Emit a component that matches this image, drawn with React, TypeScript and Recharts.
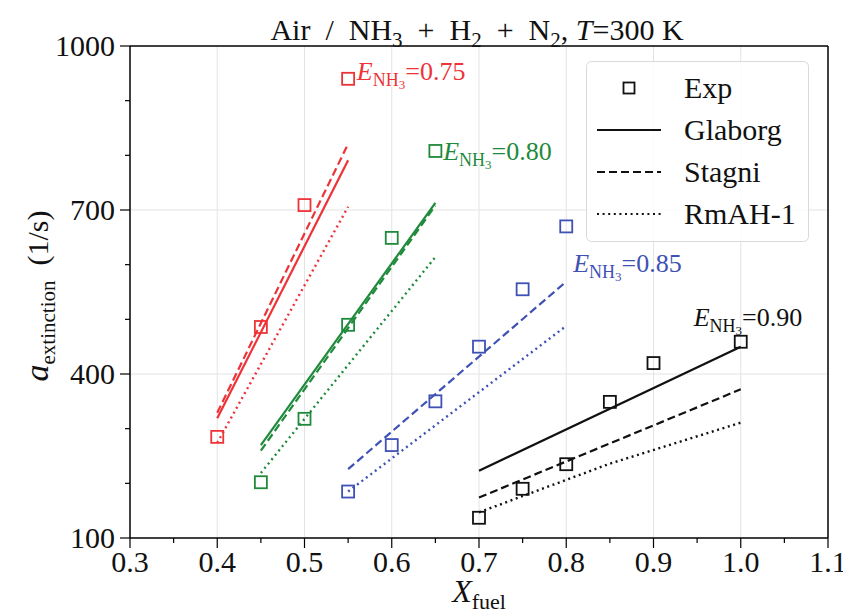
import React from 'react'
import { ComposedChart, Line, ReferenceLine, Scatter, XAxis, YAxis } from 'recharts'

const xMajorTicks = [0.3, 0.4, 0.5, 0.6, 0.7, 0.8, 0.9, 1.0, 1.1]
const xMinorTicks = [0.35, 0.45, 0.55, 0.65, 0.75, 0.85, 0.95, 1.05]
const yMajorTicks = [100, 400, 700, 1000]
const yMinorTicks = [200, 300, 500, 600, 800, 900]

// E_NH3 = 0.75
const fuel075 = [0.4, 0.45, 0.5, 0.55]
const exp075 = [285, 486, 709, 940]
const modelFuel075 = [0.4, 0.55]
const glaborg075 = [319, 791]
const stagni075 = [329, 821]
const rmah075 = [274, 706]

// E_NH3 = 0.80
const fuel080 = [0.45, 0.5, 0.55, 0.6, 0.65]
const exp080 = [202, 318, 490, 649, 808]
const modelFuel080 = [0.45, 0.65]
const glaborg080 = [270, 713]
const stagni080 = [260, 708]
const rmah080 = [219, 614]

// E_NH3 = 0.85 (Glaborg curve sits under Stagni, not drawn)
const fuel085 = [0.55, 0.6, 0.65, 0.7, 0.75, 0.8]
const exp085 = [185, 270, 350, 450, 555, 670]
const modelFuel085 = [0.55, 0.8]
const stagni085 = [226, 569]
const rmah085 = [185, 488]

// E_NH3 = 0.90
const fuel090 = [0.7, 0.75, 0.8, 0.85, 0.9, 1.0]
const exp090 = [137, 190, 235, 349, 420, 459]
const modelFuel090 = [0.7, 1.0]
const glaborg090 = [223, 450]
const stagni090 = [174, 372]
const rmahFuel090 = [0.7, 0.85, 1.0]
const rmah090 = [147, 236, 311]

const labelValues = ['0.75', '0.80', '0.85', '0.90']
const labelFuel = [0.56, 0.659, 0.808, 0.946]
const labelRate = [938, 791, 587, 488]

const RED = '#ee3338'
const GREEN = '#1f8a3b'
const BLUE = '#3f51b5'
const BLACK = '#111111'
const FONT = '"Liberation Serif", Tinos, "Times New Roman", "DejaVu Serif", "Noto Serif", serif'

const pts = (xs: number[], ys: number[]) => xs.map((x, i) => ({ x, y: ys[i] }))

const groups = [
  { color: RED, fuel: fuel075, exp: exp075, mFuel: modelFuel075, glaborg: glaborg075, stagni: stagni075, rFuel: modelFuel075, rmah: rmah075 },
  { color: GREEN, fuel: fuel080, exp: exp080, mFuel: modelFuel080, glaborg: glaborg080, stagni: stagni080, rFuel: modelFuel080, rmah: rmah080 },
  { color: BLUE, fuel: fuel085, exp: exp085, mFuel: modelFuel085, glaborg: null, stagni: stagni085, rFuel: modelFuel085, rmah: rmah085 },
  { color: BLACK, fuel: fuel090, exp: exp090, mFuel: modelFuel090, glaborg: glaborg090, stagni: stagni090, rFuel: rmahFuel090, rmah: rmah090 },
]

const isMajor = (list: number[], v: number) => list.some((t) => Math.abs(t - v) < 1e-6)

function XTick({ x, y, payload }: any) {
  const major = isMajor(xMajorTicks, payload.value)
  return (
    <g>
      <line x1={x} x2={x} y1={y} y2={y + (major ? 10 : 5)} stroke="#000" strokeWidth={1.2} />
      {major ? (
        <text x={x} y={y + 34} textAnchor="middle" fontSize={30} fontFamily={FONT} fill="#111">
          {payload.value.toFixed(1)}
        </text>
      ) : null}
    </g>
  )
}

function YTick({ x, y, payload }: any) {
  const major = isMajor(yMajorTicks, payload.value)
  return (
    <g>
      <line x1={x - (major ? 10 : 5)} x2={x} y1={y} y2={y} stroke="#000" strokeWidth={1.2} />
      {major ? (
        <text x={x - 15} y={y + 10} textAnchor="end" fontSize={30} fontFamily={FONT} fill="#111">
          {payload.value}
        </text>
      ) : null}
    </g>
  )
}

const squareShape = (color: string) => (props: any) => (
  <rect x={props.cx - 6} y={props.cy - 6} width={12} height={12} fill="none" stroke={color} strokeWidth={1.8} />
)

const labelShape = (text: string, color: string) => (props: any) => (
  <text x={props.cx} y={props.cy} fontSize={26} fontFamily={FONT} fill={color} style={{ whiteSpace: 'pre' }}>
    <tspan fontStyle="italic">E</tspan>
    <tspan dy={6} fontSize={18}>NH</tspan>
    <tspan dy={3} fontSize={13}>3</tspan>
    <tspan dy={-9}>{`=${text}`}</tspan>
  </text>
)

function XLabel({ viewBox }: any) {
  const cx = viewBox.x + viewBox.width / 2
  return (
    <text x={cx} y={602} textAnchor="middle" fontSize={32} fontFamily={FONT} fill="#111">
      <tspan fontStyle="italic">X</tspan>
      <tspan dy={7} fontSize={22}>fuel</tspan>
    </text>
  )
}

function YLabel() {
  return (
    <text transform="translate(48, 296) rotate(-90)" textAnchor="middle" fontSize={30} fontFamily={FONT} fill="#111" style={{ whiteSpace: 'pre' }}>
      <tspan fontStyle="italic" fontSize={34}>a</tspan>
      <tspan dy={7} fontSize={21}>extinction</tspan>
      <tspan dy={-7}>{'  (1/s)'}</tspan>
    </text>
  )
}

const legendRows = [
  { name: 'Exp', kind: 'marker' },
  { name: 'Glaborg', kind: 'solid' },
  { name: 'Stagni', kind: 'dashed' },
  { name: 'RmAH-1', kind: 'dotted' },
]

function Overlay() {
  return (
    <svg width={843} height={615} style={{ position: 'absolute', left: 0, top: 0, pointerEvents: 'none' }}>
      <text x={477} y={40} textAnchor="middle" fontSize={30} fontFamily={FONT} fill="#111" style={{ whiteSpace: 'pre' }}>
        {'Air  /  NH'}
        <tspan dy={7} fontSize={21}>3</tspan>
        <tspan dy={-7}>{'  +  H'}</tspan>
        <tspan dy={7} fontSize={21}>2</tspan>
        <tspan dy={-7}>{'  +  N'}</tspan>
        <tspan dy={7} fontSize={21}>2</tspan>
        <tspan dy={-7}>{', '}</tspan>
        <tspan fontStyle="italic">T</tspan>
        <tspan>{'=300 K'}</tspan>
      </text>
      <rect x={586.5} y={61.5} width={222} height={180} rx={5} fill="#fff" fillOpacity={0.85} stroke="#d9d9d9" />
      {legendRows.map((row, i) => {
        const y = 88 + i * 42
        return (
          <g key={row.name}>
            {row.kind === 'marker' ? (
              <rect x={623.5} y={y - 5.5} width={11} height={11} fill="none" stroke={BLACK} strokeWidth={1.8} />
            ) : (
              <line
                x1={597}
                x2={661}
                y1={y}
                y2={y}
                stroke={BLACK}
                strokeWidth={2.2}
                strokeDasharray={row.kind === 'dashed' ? '8 4' : row.kind === 'dotted' ? '2 3.6' : undefined}
              />
            )}
            <text x={684} y={y + 10} fontSize={30} fontFamily={FONT} fill="#111">
              {row.name}
            </text>
          </g>
        )
      })}
    </svg>
  )
}

export default function App() {
  return (
    <div style={{ position: 'absolute', left: 0, top: 0, width: 843, height: 615, background: '#fff' }}>
      <ComposedChart width={843} height={615} margin={{ top: 46, right: 15, left: 60, bottom: 17 }}>
        <XAxis
          type="number"
          dataKey="x"
          domain={[0.3, 1.1]}
          ticks={[...xMajorTicks, ...xMinorTicks].sort((a, b) => a - b)}
          interval={0}
          allowDataOverflow
          height={60}
          tickSize={0}
          tickMargin={0}
          tickLine={false}
          tick={<XTick />}
          axisLine={{ stroke: '#000', strokeWidth: 1.5 }}
          label={<XLabel />}
        />
        <YAxis
          type="number"
          dataKey="y"
          domain={[100, 1000]}
          ticks={[...yMajorTicks, ...yMinorTicks].sort((a, b) => a - b)}
          interval={0}
          allowDataOverflow
          width={70}
          tickSize={0}
          tickMargin={0}
          tickLine={false}
          tick={<YTick />}
          axisLine={{ stroke: '#000', strokeWidth: 1.5 }}
          label={<YLabel />}
        />
        {xMajorTicks.slice(1, -1).map((v) => (
          <ReferenceLine key={`gx${v}`} x={v} stroke="#e3e3e3" strokeWidth={1} />
        ))}
        {yMajorTicks.slice(1, -1).map((v) => (
          <ReferenceLine key={`gy${v}`} y={v} stroke="#e3e3e3" strokeWidth={1} />
        ))}
        <ReferenceLine y={1000} stroke="#000" strokeWidth={1.5} />
        <ReferenceLine x={1.1} stroke="#000" strokeWidth={1.5} />

        {groups.map((g, i) => (
          <React.Fragment key={i}>
            {g.glaborg ? (
              <Line data={pts(g.mFuel, g.glaborg)} dataKey="y" type="linear" stroke={g.color} strokeWidth={2.2} dot={false} isAnimationActive={false} legendType="none" />
            ) : null}
            <Line data={pts(g.mFuel, g.stagni)} dataKey="y" type="linear" stroke={g.color} strokeWidth={2.2} strokeDasharray="8 4" dot={false} isAnimationActive={false} legendType="none" />
            <Line data={pts(g.rFuel, g.rmah)} dataKey="y" type="linear" stroke={g.color} strokeWidth={2.4} strokeDasharray="2 3.6" dot={false} isAnimationActive={false} legendType="none" />
            <Scatter data={pts(g.fuel, g.exp)} shape={squareShape(g.color)} isAnimationActive={false} legendType="none" />
            <Scatter
              data={[{ x: labelFuel[i], y: labelRate[i] }]}
              shape={labelShape(labelValues[i], g.color)}
              isAnimationActive={false}
              legendType="none"
            />
          </React.Fragment>
        ))}
      </ComposedChart>
      <Overlay />
    </div>
  )
}
